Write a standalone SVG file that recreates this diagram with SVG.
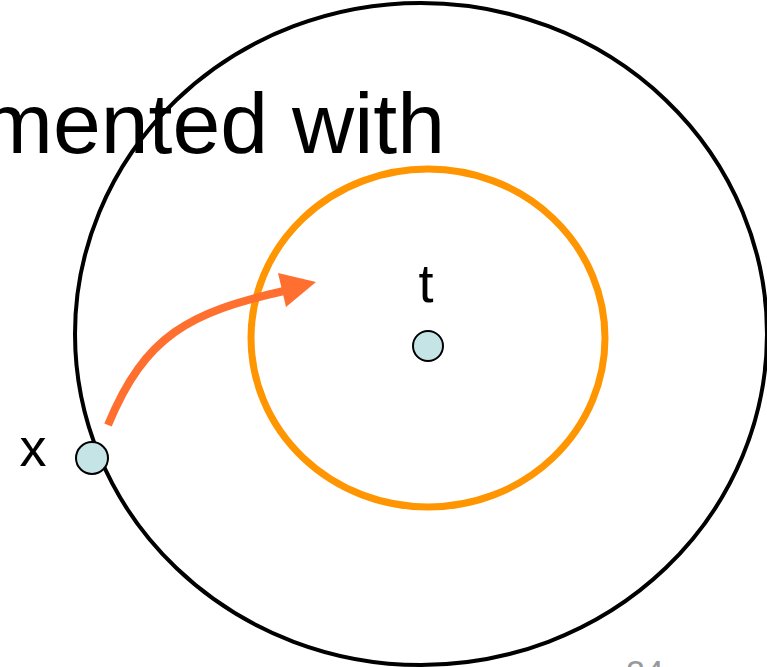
<svg xmlns="http://www.w3.org/2000/svg" width="767" height="667" viewBox="0 0 767 667">
<style>
.lbl{font-family:"Liberation Sans",Arial,sans-serif;fill:#000}
.node{fill:#c5e4e6;stroke:#000;stroke-width:2}
</style>
<rect width="767" height="667" fill="#fff"/>
<text class="lbl" x="445" y="153" font-size="86" text-anchor="end">mented with</text>
<ellipse cx="421" cy="334" rx="346" ry="331" fill="none" stroke="#000" stroke-width="4"/>
<ellipse cx="428" cy="338" rx="177" ry="169" fill="none" stroke="#ff9500" stroke-width="7"/>
<g id="connectors">
<path d="M108,425 C145,335 190,312 284,291" fill="none" stroke="#ff6f30" stroke-width="8"/>
<polygon points="278,273 316,282 286,307" fill="#ff6f30"/>
</g>
<g id="node-t">
<text class="lbl" x="426" y="302" font-size="54" text-anchor="middle">t</text>
<circle class="node" cx="428" cy="346" r="15"/>
</g>
<g id="node-x">
<text class="lbl" x="33" y="466" font-size="54" text-anchor="middle">x</text>
<circle class="node" cx="92" cy="458" r="16"/>
</g>
<text x="645" y="684" font-size="34" font-family="Liberation Sans,Arial,sans-serif" fill="#999" text-anchor="middle">24</text>
</svg>
